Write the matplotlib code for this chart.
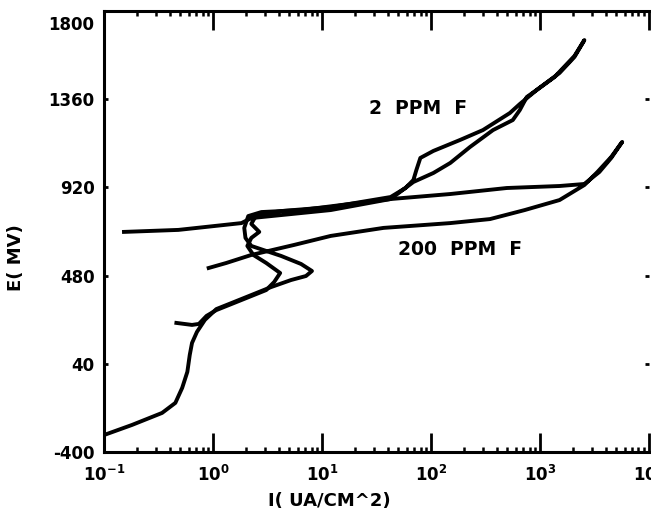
import matplotlib
matplotlib.use("Agg")
import matplotlib.pyplot as plt
from matplotlib.ticker import LogLocator, NullFormatter, FixedLocator


# current density (uA/cm^2) and potential (mV)
I_200 = [0.10, 0.18, 0.34, 0.45, 0.52, 0.58, 0.61, 0.64, 0.71, 0.84, 1.07, 1.47,
         2.24, 3.41, 5.19, 7.11, 8.07, 6.41, 4.21, 2.88, 2.24, 1.98, 1.93, 2.10,
         2.77, 6.41, 14.9, 42.5, 150, 495, 1510, 2550, 3500, 4500, 5670, 4500,
         3360, 2550, 1510, 723, 347, 150, 36.6, 12.0, 5.53, 2.24, 1.32, 0.91]
E_200 = [-315, -265, -205, -155, -80, 0, 84, 144, 199, 259, 313, 343,
         383, 423, 458, 478, 503, 538, 578, 608, 628, 668, 718, 777,
         797, 807, 832, 862, 887, 917, 927, 937, 997, 1067, 1147, 1072,
         997, 932, 857, 807, 762, 742, 718, 678, 633, 583, 543, 518]

I_2 = [0.46, 0.64, 0.74, 0.87, 1.07, 1.47, 2.24, 3.07, 3.63, 4.12, 3.07, 2.34,
       2.06, 2.24, 2.65, 2.24, 2.49, 4.21, 12.0, 42.5, 58.2, 68.8, 73.3, 79.7,
       105, 185, 299, 528, 652, 931, 1510, 2070, 2550, 2070, 1360, 931,
       755, 652, 562, 370, 228, 150, 105, 68.8, 42.5, 12.0, 5.19, 2.24,
       1.82, 0.48, 0.152]
E_2 = [244, 234, 239, 279, 308, 338, 378, 408, 448, 493, 543, 583,
       628, 668, 698, 738, 782, 802, 822, 872, 917, 957, 1007, 1067,
       1102, 1157, 1206, 1291, 1336, 1406, 1491, 1571, 1655, 1576, 1471, 1406,
       1371, 1306, 1256, 1206, 1122, 1042, 992, 947, 862, 807, 787, 767,
       742, 708, 698]

Y_TICKS = [-400, 40, 480, 920, 1360, 1800]
X_TICKS = [0.1, 1, 10, 100, 1000, 10000]
X_TICKLABELS = [r"$\mathbf{10^{-1}}$", r"$\mathbf{10^{0}}$", r"$\mathbf{10^{1}}$",
                r"$\mathbf{10^{2}}$", r"$\mathbf{10^{3}}$", r"$\mathbf{10^{4}}$"]

plt.rcParams['font.family'] = ['DejaVu Sans']
plt.rcParams['font.weight'] = 'bold'
plt.rcParams['mathtext.fontset'] = 'dejavusans'

fig = plt.figure(figsize=(6.51, 5.14), dpi=100)
ax = fig.add_axes([0.16, 0.1206, 0.837, 0.858])

ax.plot(I_200, E_200, color='black', lw=2.8, solid_joinstyle='round')
ax.plot(I_2, E_2, color='black', lw=2.8, solid_joinstyle='round')

ax.set_xscale('log')
ax.set_xlim(0.1, 10000)
ax.set_ylim(-400, 1800)

ax.xaxis.set_major_locator(FixedLocator(X_TICKS))
ax.set_xticklabels(X_TICKLABELS, fontsize=12)
ax.xaxis.set_minor_locator(LogLocator(base=10, subs=range(2, 10)))
ax.xaxis.set_minor_formatter(NullFormatter())
ax.tick_params(axis='x', which='major', direction='in', length=14, width=2,
               top=True, bottom=True, pad=9)
ax.tick_params(axis='x', which='minor', direction='in', length=3.5, width=1.8,
               top=True, bottom=True)

ax.set_yticks(Y_TICKS)
ax.set_yticklabels(["-400", "40", "480", "920", "1360", ""], fontsize=12,
                   fontweight='bold')
ax.tick_params(axis='y', direction='in', length=3, width=2, left=True,
               right=True, pad=7)
ax.annotate("1800", xy=(0, 1800), xycoords=('axes fraction', 'data'),
            xytext=(-7, -10), textcoords='offset points', ha='right',
            va='center', fontsize=12, fontweight='bold')

for side in ['left', 'bottom', 'top']:
    ax.spines[side].set_linewidth(2.2)
ax.spines['right'].set_visible(False)

ax.set_xlabel("I( UA/CM^2)", fontsize=13, fontweight='bold')
ax.xaxis.set_label_coords(0.414, -0.09)
ax.set_ylabel("E( MV)", fontsize=13, fontweight='bold')
ax.yaxis.set_label_coords(-0.145, 0.44)

ax.text(26.7, 1316, "2  PPM  F", fontsize=13.5, fontweight='bold',
        ha='left', va='center')
ax.text(50, 608, "200  PPM  F", fontsize=13.5, fontweight='bold',
        ha='left', va='center')

fig.savefig("out.png", dpi=100)
